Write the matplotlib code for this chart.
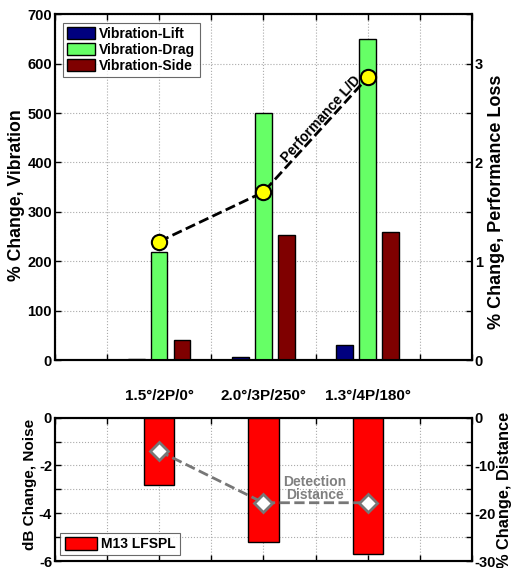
import matplotlib
matplotlib.use("Agg")
import matplotlib.pyplot as plt
import matplotlib.transforms as mtransforms
import numpy as np

plt.rcParams['font.family'] = ['Liberation Sans', 'DejaVu Sans']
plt.rcParams['font.weight'] = 'bold'
plt.rcParams['axes.labelweight'] = 'bold'

categories = ["1.5°/2P/0°", "2.0°/3P/250°", "1.3°/4P/180°"]
vib_lift = [1.5, 6, 30]
vib_drag = [218, 501, 650]
vib_side = [41, 254, 260]
perf_ld = [1.20, 1.70, 2.86]
noise_db = [-2.8, -5.2, -5.7]
det_dist = [-7.0, -17.8, -17.8]

x = np.arange(1, len(categories) + 1)

fig = plt.figure(figsize=(5.13, 5.68), dpi=100)
ax = fig.add_axes([0.107, 0.366, 0.813, 0.609])
ax2 = ax.twinx()

bw = 0.16
off = 0.22
ax.bar(x - off, vib_lift, bw, color='#00007f', edgecolor='black', linewidth=1, label='Vibration-Lift', zorder=3)
ax.bar(x, vib_drag, bw, color='#66ff66', edgecolor='black', linewidth=1, label='Vibration-Drag', zorder=3)
ax.bar(x + off, vib_side, bw, color='#7f0000', edgecolor='black', linewidth=1, label='Vibration-Side', zorder=3)
ax.set_xlim(0, 4)
ax.set_ylim(0, 700)
ax.set_xticks(np.arange(0, 4.01, 0.5))
ax.set_xticklabels([])
ax.set_yticks(np.arange(0, 701, 100))
ax.grid(True, linestyle=':', color='#aaaaaa', linewidth=0.8, zorder=0)
ax.set_axisbelow(True)
ax.tick_params(direction='in', top=True, labelsize=10.5, width=1, length=4, pad=2)
ax.set_ylabel('% Change, Vibration', fontsize=12.7, fontweight='bold')
ax.yaxis.set_label_coords(-0.091, 0.477)
ax.yaxis.label.set_verticalalignment('center')
leg = ax.legend(loc='upper left', fontsize=10, frameon=True, fancybox=False,
                edgecolor='#444444', handlelength=2.0, handleheight=1.0,
                borderaxespad=0.6, labelspacing=0.15, handletextpad=0.3, borderpad=0.3)
leg.get_frame().set_linewidth(0.8)
for t in leg.get_texts():
    t.set_fontweight('bold')

ax2.plot(x, perf_ld, linestyle='--', color='black', linewidth=2, marker='o',
         markersize=11, markerfacecolor='#ffff00', markeredgecolor='black',
         markeredgewidth=1.5, zorder=5)
ax2.set_ylim(0, 3.5)
ax2.set_yticks(np.arange(0, 3.51, 0.5))
ax2.set_yticklabels([('%d' % v if v == int(v) else '') for v in np.arange(0, 3.51, 0.5)])
ax2.tick_params(direction='in', labelsize=10.5, width=1, length=4, pad=2)
ax2.set_ylabel('% Change, Performance Loss', fontsize=13, fontweight='bold')
ax2.yaxis.set_label_coords(1.058, 0.457)
ax2.yaxis.label.set_verticalalignment('center')
ax2.text(2.55, 2.44, 'Performance L/D', rotation=48, rotation_mode='anchor',
         ha='center', va='center', fontsize=10, fontweight='bold', color='black', zorder=6)

for a in (ax, ax2):
    for s in a.spines.values():
        s.set_linewidth(1.5)

# category labels between panels
trans = mtransforms.blended_transform_factory(ax.transData, fig.transFigure)
for xi, c in zip(x, categories):
    fig.text(xi, 0.303, c, transform=trans, ha='center', va='center', fontsize=11, fontweight='bold')

# bottom panel
bx = fig.add_axes([0.107, 0.0123, 0.813, 0.2523])
bx2 = bx.twinx()
bx.bar(x, noise_db, 0.29, color='#ff0000', edgecolor='black', linewidth=1, label='M13 LFSPL', zorder=3)
bx.set_xlim(0, 4)
bx.set_ylim(-6, 0)
bx.set_xticks(np.arange(0, 4.01, 0.5))
bx.set_xticklabels([])
bx.set_yticks(np.arange(-6, 0.01, 1))
bx.set_yticklabels([('%d' % v if v % 2 == 0 else '') for v in np.arange(-6, 0.01, 1)])
bx.grid(True, linestyle=':', color='#aaaaaa', linewidth=0.8, zorder=0)
bx.set_axisbelow(True)
bx.tick_params(direction='in', top=True, labelsize=10.5, width=1, length=4, pad=2)
bx.set_ylabel('dB Change, Noise', fontsize=11, fontweight='bold')
bx.yaxis.set_label_coords(-0.060, 0.534)
bx.yaxis.label.set_verticalalignment('center')
leg2 = bx.legend(loc='lower left', fontsize=10, frameon=True, fancybox=False,
                 edgecolor='#444444', handlelength=2.3, handleheight=1.0,
                 borderaxespad=0.4, handletextpad=0.3, borderpad=0.3)
leg2.get_frame().set_linewidth(0.8)
for t in leg2.get_texts():
    t.set_fontweight('bold')

bx2.plot(x, det_dist, linestyle='--', color='#777777', linewidth=2, marker='D',
         markersize=9, markerfacecolor='white', markeredgecolor='#777777',
         markeredgewidth=2, zorder=5)
bx2.set_ylim(-30, 0)
bx2.set_yticks(np.arange(-30, 0.1, 5))
bx2.set_yticklabels([('%d' % v if v % 10 == 0 else '') for v in np.arange(-30, 0.1, 5)])
bx2.tick_params(direction='in', labelsize=10.5, width=1, length=4, pad=2)
bx2.set_ylabel('% Change, Distance', fontsize=11.8, fontweight='bold')
bx2.yaxis.set_label_coords(1.079, 0.495)
bx2.yaxis.label.set_verticalalignment('center')
bx2.text(2.49, -14.9, 'Detection\nDistance', ha='center', va='center', fontsize=10,
         fontweight='bold', color='#808080', linespacing=0.9, zorder=6)

for a in (bx, bx2):
    for s in a.spines.values():
        s.set_linewidth(1.5)

fig.savefig('out.png', dpi=100)
